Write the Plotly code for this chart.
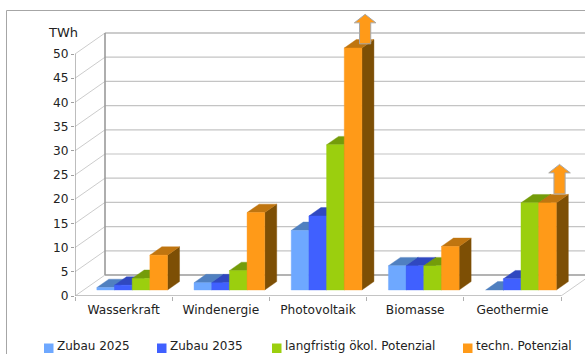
import plotly.graph_objects as go

# Chart data (TWh)
categories = ["Wasserkraft", "Windenergie", "Photovoltaik", "Biomasse", "Geothermie"]
series_names = ["Zubau 2025", "Zubau 2035", "langfristig ökol. Potenzial", "techn. Potenzial"]
zubau_2025 = [0.5, 1.5, 12.3, 5.0, 0.0]
zubau_2035 = [1.0, 1.5, 15.3, 5.0, 2.3]
langfristig = [2.4, 4.0, 30.0, 5.0, 18.0]
techn = [7.2, 16.0, 50.0, 9.0, 18.0]
y_ticks = [0, 5, 10, 15, 20, 25, 30, 35, 40, 45, 50]
# Categories whose technical potential runs off the scale, and where their arrows start
arrow_categories = [2, 4]
arrow_starts = [52.1, 21.1]

# Face colours per series: front, top, side
front_colors = ["#6ea8ff", "#4060ff", "#9bcf0e", "#ff9a18"]
top_colors = ["#5080c0", "#3048c0", "#749c0a", "#bf7510"]
side_colors = ["#38548a", "#20308a", "#4e6a07", "#7d4f05"]

GRID = "#c4c4c4"
AXIS = "#9a9a9a"
TEXT = "#222222"
FONT = "DejaVu Sans"

# Plot geometry in pixels, used for the oblique projection
W, H = 585, 354
LEFT, BOTTOM_PX = 75, 296
CAT_PX = 97.2
VAL_PX = 4.84
DEPTH_X = 30 / CAT_PX      # full floor depth along x, in category units
DEPTH_Y = 21 / VAL_PX      # full floor depth along y, in value units


def project(x, value, depth=0.0):
    """Map a point on the category/value plane at a given depth to axis units."""
    return x + depth * DEPTH_X, value + depth * DEPTH_Y


def line(points, color=GRID, width=1.0):
    xs, ys = zip(*[project(*p) for p in points])
    return go.Scatter(x=xs, y=ys, mode="lines", line=dict(color=color, width=width),
                      hoverinfo="skip", showlegend=False, cliponaxis=False)


def face(points, color, name=None, text=None):
    xs, ys = zip(*[project(*p) for p in points])
    xs = list(xs) + [xs[0]]
    ys = list(ys) + [ys[0]]
    return go.Scatter(x=xs, y=ys, mode="lines", fill="toself", fillcolor=color,
                      line=dict(color=color, width=0.4), showlegend=False,
                      hoverinfo="text" if text else "skip", text=text, name=name or "",
                      cliponaxis=False)


fig = go.Figure()

# Walls and floor
for v in y_ticks:
    fig.add_trace(line([(0, v, 0), (0, v, 1)], color="#cccccc"))
    back_color = AXIS if v in (0, 50) else GRID
    fig.add_trace(line([(0, v, 1), (5.3, v, 1)], color=back_color, width=1.4 if v == 0 else 1.2))
fig.add_trace(line([(0, 0, 0), (0, 50, 0)], color=AXIS, width=1.3))
fig.add_trace(line([(0, 0, 1), (0, 50, 1)], color=AXIS, width=1.6))
fig.add_trace(line([(0, 0, 0), (5, 0, 0)], color="#b0b0b0", width=1.3))
fig.add_trace(line([(5, 0, 0), (5, 0, 1)], color="#cccccc"))

# Bars, painted left to right so each one hides what lies behind it
GROUP_WIDTH = 70.7 / CAT_PX
BAR_WIDTH = GROUP_WIDTH / 4
DEPTH_FRONT, DEPTH_BACK = 0.286, 0.686
all_series = [zubau_2025, zubau_2035, langfristig, techn]

for c, cat in enumerate(categories):
    for s, values in enumerate(all_series):
        v = values[c]
        x0 = c + 0.5 - GROUP_WIDTH / 2 + s * BAR_WIDTH
        x1 = x0 + BAR_WIDTH
        label = f"{cat}<br>{series_names[s]}: {v} TWh"
        fig.add_trace(face([(x1, 0, DEPTH_FRONT), (x1, 0, DEPTH_BACK),
                            (x1, v, DEPTH_BACK), (x1, v, DEPTH_FRONT)], side_colors[s]))
        fig.add_trace(face([(x0, v, DEPTH_FRONT), (x1, v, DEPTH_FRONT),
                            (x1, v, DEPTH_BACK), (x0, v, DEPTH_BACK)], top_colors[s]))
        if v > 0:
            fig.add_trace(face([(x0, 0, DEPTH_FRONT), (x1, 0, DEPTH_FRONT),
                                (x1, v, DEPTH_FRONT), (x0, v, DEPTH_FRONT)],
                               front_colors[s], name=series_names[s], text=label))

# Upward arrows for values beyond the scale
SHAFT = 5.6 / CAT_PX
HEAD = 10.8 / CAT_PX
for c, start in zip(arrow_categories, arrow_starts):
    cx = c + 0.985
    neck = start + 21 / VAL_PX
    tip = start + 29.5 / VAL_PX
    xs = [cx - SHAFT, cx + SHAFT, cx + SHAFT, cx + HEAD, cx, cx - HEAD, cx - SHAFT, cx - SHAFT]
    ys = [start, start, neck, neck, tip, neck, neck, start]
    fig.add_trace(go.Scatter(x=xs, y=ys, mode="lines", fill="toself", fillcolor=front_colors[3],
                             line=dict(color="#a8a8a8", width=1), hoverinfo="skip",
                             showlegend=False, cliponaxis=False))

plot_w = W - LEFT
plot_h = BOTTOM_PX


def paper_x(px):
    return (px - LEFT) / plot_w


def paper_y(py):
    return (BOTTOM_PX - py) / plot_h


shapes = [
    # Outer chart frame, running off the right and bottom edges
    dict(type="line", xref="paper", yref="paper", x0=paper_x(6.5), x1=paper_x(6.5),
         y0=paper_y(10.5), y1=paper_y(360), line=dict(color="#a6a6a6", width=1)),
    dict(type="line", xref="paper", yref="paper", x0=paper_x(6.5), x1=paper_x(590),
         y0=paper_y(10.5), y1=paper_y(10.5), line=dict(color="#a6a6a6", width=1)),
]

annotations = [
    dict(text="TWh", xref="paper", yref="paper", x=paper_x(79.5), y=paper_y(32), xanchor="right",
         yanchor="middle", showarrow=False, font=dict(family=FONT, size=13, color=TEXT)),
]

# Legend row
legend_swatch_px = [44, 157, 272, 463]
for name, color, px in zip(series_names, front_colors, legend_swatch_px):
    shapes.append(dict(type="rect", xref="paper", yref="paper", x0=paper_x(px), x1=paper_x(px + 9.5),
                       y0=paper_y(343.5), y1=paper_y(353), fillcolor=color, line=dict(width=0)))
    annotations.append(dict(text=name, xref="paper", yref="paper", x=paper_x(px + 11.5), y=paper_y(354),
                            xanchor="left", yanchor="bottom", showarrow=False, borderpad=0,
                            font=dict(family=FONT, size=12, color=TEXT)))

fig.update_layout(
    width=W, height=H,
    margin=dict(l=LEFT, r=0, t=0, b=H - BOTTOM_PX),
    paper_bgcolor="white", plot_bgcolor="white",
    showlegend=False,
    shapes=shapes, annotations=annotations,
    font=dict(family=FONT, size=12.2, color=TEXT),
    xaxis=dict(range=[0, plot_w / CAT_PX], showgrid=False, zeroline=False, showline=False,
               tickmode="array", tickvals=[i + 0.5 for i in range(len(categories))],
               ticktext=categories, ticks="", ticklen=0, ticklabelstandoff=5, fixedrange=True,
               minor=dict(tickmode="array", tickvals=list(range(len(categories) + 1)),
                          ticks="outside", ticklen=4, tickcolor="#b0b0b0", tickwidth=1)),
    yaxis=dict(range=[0, plot_h / VAL_PX], showgrid=False, zeroline=False, showline=False,
               tickmode="array", tickvals=y_ticks, ticks="outside", ticklen=3,
               tickcolor="#a0a0a0", fixedrange=True),
)

fig.write_html("out.html")
